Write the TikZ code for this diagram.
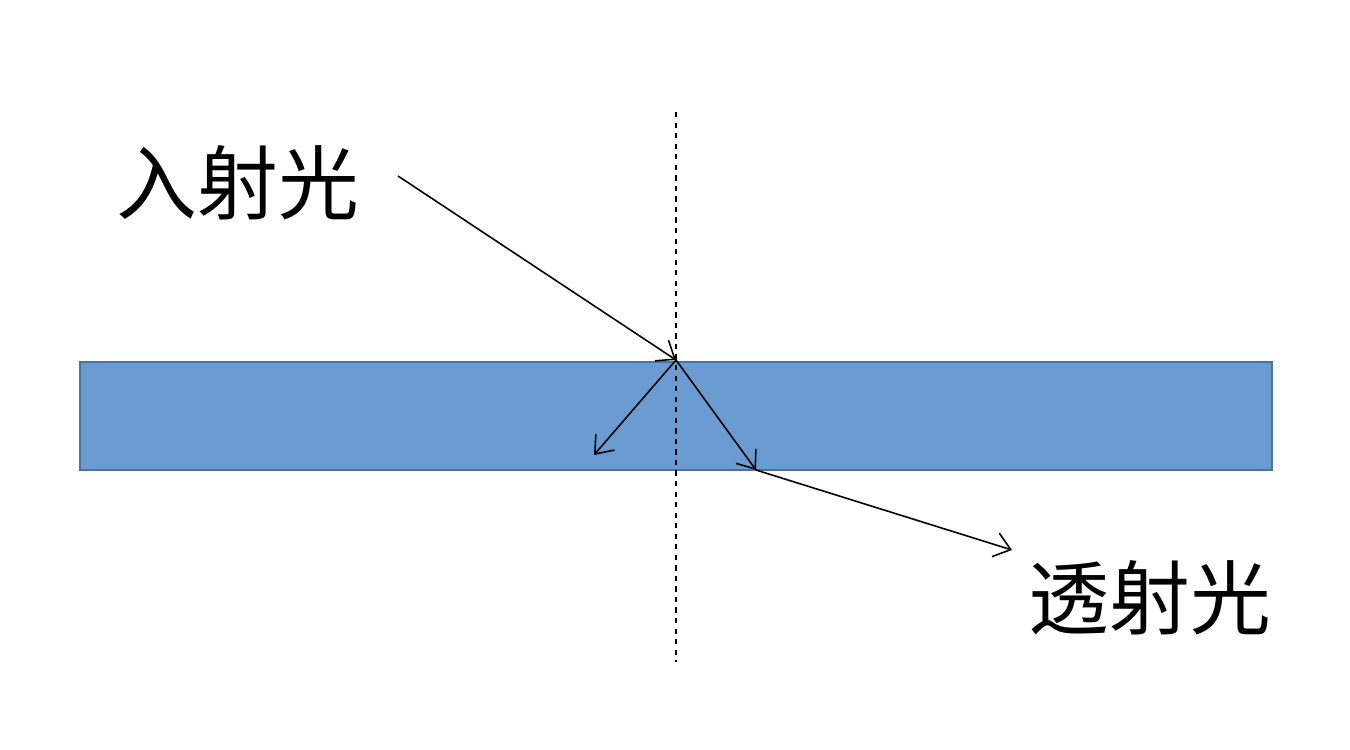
\documentclass[tikz,border=0pt]{standalone}
\usepackage{fontspec}
\newfontfamily\cjk{Noto Sans CJK SC}
\usetikzlibrary{arrows.meta}
\definecolor{slab}{HTML}{6A9BD1}
\definecolor{slabedge}{HTML}{4A74A0}
\tikzset{ray/.style={-{Straight Barb[length=9pt,width=14pt]},line width=0.9pt},
lbl/.style={font=\cjk\fontsize{46pt}{50pt}\selectfont,inner sep=0pt}}
\begin{document}
\begin{tikzpicture}[x=0.02cm,y=-0.02cm]
\useasboundingbox (0,0) rectangle (1350,750);
\fill[slab,draw=slabedge,line width=1.5pt] (80,362) rectangle (1272,470);
\coordinate (top) at (676,112);
\coordinate (bot) at (676,662);
\draw[dashed,line width=0.9pt] (top) -- (bot);
\coordinate (src) at (398,176);
\coordinate (hit) at (676,360);
\coordinate (refl) at (594,455);
\coordinate (exit) at (756,470);
\coordinate (out) at (1012,550);
\draw[ray] (src) -- (hit);
\draw[ray] (hit) -- (refl);
\draw[ray] (hit) -- (exit);
\draw[ray] (exit) -- (out);
\node[lbl] (inc) at (238,183) {入射光};
\node[lbl] (tra) at (1150,598) {透射光};
\end{tikzpicture}
\end{document}
